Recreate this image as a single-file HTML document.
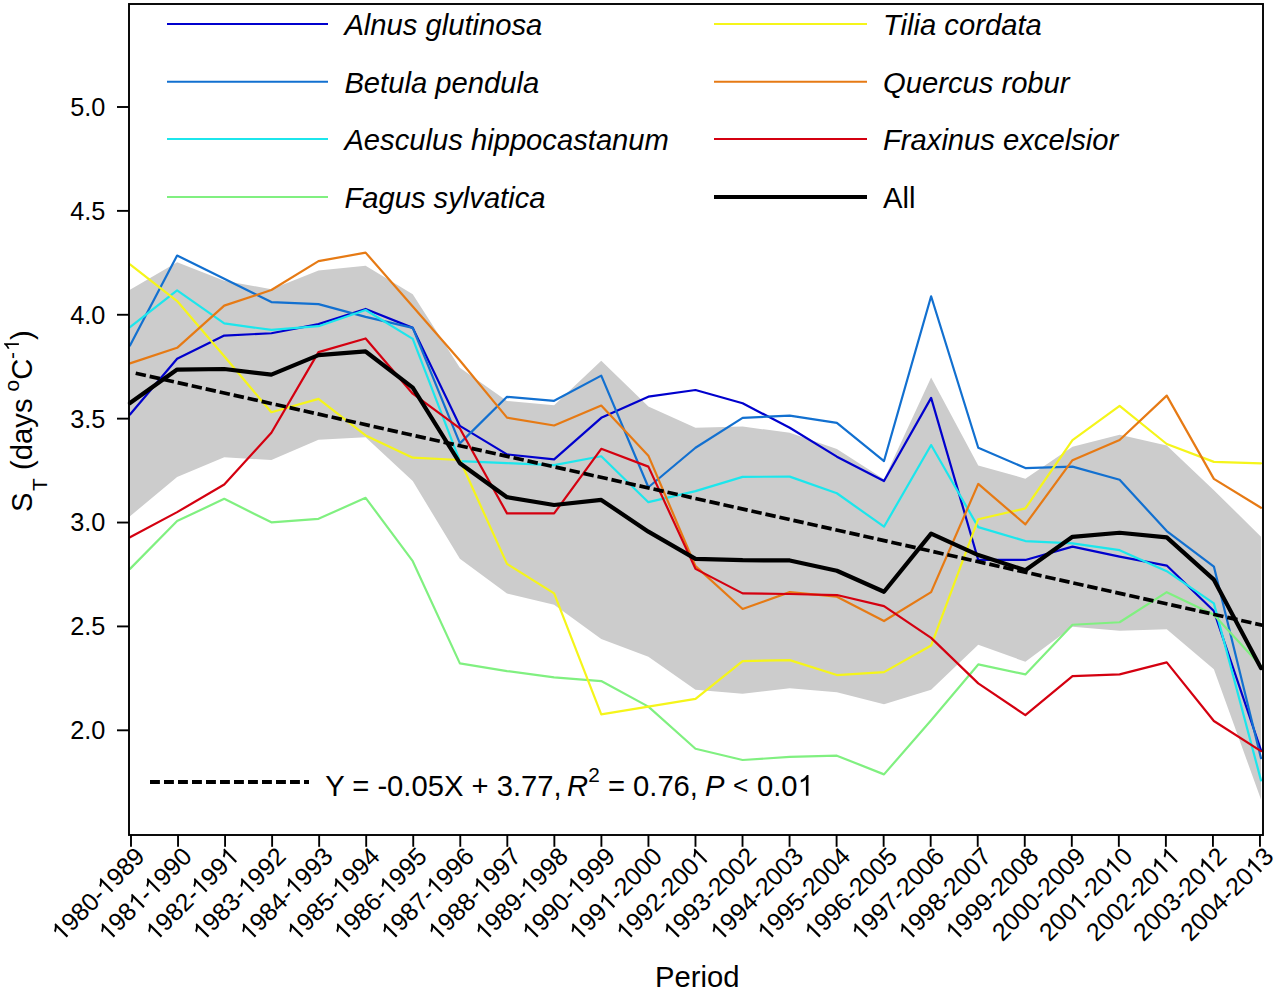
<!DOCTYPE html>
<html><head><meta charset="utf-8"><style>
html,body{margin:0;padding:0;background:#fff;}
svg{display:block;}
text{font-family:"Liberation Sans", sans-serif; fill:#000;}
</style></head><body>
<svg width="1276" height="990" viewBox="0 0 1276 990">
<rect width="1276" height="990" fill="#fff"/>
<polygon points="130.00,289.84 177.12,262.20 224.25,280.66 271.38,289.23 318.50,270.43 365.62,265.63 412.75,294.27 459.88,367.64 507.00,400.98 554.12,405.28 601.25,360.81 648.38,406.58 695.50,427.83 742.62,426.60 789.75,432.73 836.88,449.12 884.00,479.32 931.12,377.47 978.25,465.47 1025.38,478.65 1072.50,446.87 1119.62,434.73 1166.75,445.62 1213.88,490.16 1261.00,536.71 1261.00,799.54 1213.88,669.14 1166.75,629.20 1119.62,630.77 1072.50,626.76 1025.38,661.77 978.25,644.74 931.12,689.69 884.00,704.19 836.88,692.36 789.75,688.15 742.62,693.81 695.50,689.79 648.38,656.73 601.25,639.04 554.12,604.72 507.00,593.41 459.88,558.83 412.75,481.07 365.62,437.29 318.50,439.72 271.38,460.10 224.25,457.33 177.12,476.92 130.00,516.24" fill="#CCCCCC" stroke="none"/>
<polyline points="130.00,414.50 177.12,358.82 224.25,335.55 271.38,333.26 318.50,324.12 365.62,308.95 412.75,327.86 459.88,425.93 507.00,454.39 554.12,459.38 601.25,417.82 648.38,396.63 695.50,389.98 742.62,403.28 789.75,427.80 836.88,456.68 884.00,480.99 931.12,397.88 978.25,559.94 1025.38,559.94 1072.50,546.64 1119.62,556.61 1166.75,565.55 1213.88,611.05 1261.00,750.26" fill="none" stroke="#0000CD" stroke-width="2.2" stroke-linejoin="round" stroke-linecap="round"/>
<polyline points="130.00,345.52 177.12,255.56 224.25,278.83 271.38,302.10 318.50,304.17 365.62,316.85 412.75,327.86 459.88,443.38 507.00,396.84 554.12,400.79 601.25,375.65 648.38,487.22 695.50,447.74 742.62,417.82 789.75,415.54 836.88,422.81 884.00,461.04 931.12,296.28 978.25,447.74 1025.38,468.10 1072.50,466.65 1119.62,479.74 1166.75,531.06 1213.88,566.59 1261.00,758.15" fill="none" stroke="#1270D0" stroke-width="2.2" stroke-linejoin="round" stroke-linecap="round"/>
<polyline points="130.00,327.24 177.12,290.46 224.25,323.29 271.38,329.94 318.50,326.20 365.62,309.99 412.75,338.87 459.88,461.04 507.00,463.12 554.12,465.20 601.25,456.26 648.38,502.18 695.50,491.17 742.62,476.83 789.75,476.62 836.88,493.24 884.00,526.70 931.12,445.04 978.25,527.11 1025.38,541.03 1072.50,543.32 1119.62,550.17 1166.75,571.16 1213.88,603.36 1261.00,780.38" fill="none" stroke="#1CE6EC" stroke-width="2.2" stroke-linejoin="round" stroke-linecap="round"/>
<polyline points="130.00,568.87 177.12,521.09 224.25,498.85 271.38,522.33 318.50,518.80 365.62,497.82 412.75,561.19 459.88,663.41 507.00,671.10 554.12,677.33 601.25,681.07 648.38,706.62 695.50,748.80 742.62,760.02 789.75,756.90 836.88,755.66 884.00,774.36 931.12,720.34 978.25,664.45 1025.38,674.42 1072.50,624.76 1119.62,622.27 1166.75,592.14 1213.88,614.79 1261.00,665.90" fill="none" stroke="#80F080" stroke-width="2.2" stroke-linejoin="round" stroke-linecap="round"/>
<polyline points="130.00,264.49 177.12,301.06 224.25,356.32 271.38,412.21 318.50,398.92 365.62,435.48 412.75,457.72 459.88,460.00 507.00,563.89 554.12,593.39 601.25,714.31 648.38,706.62 695.50,698.94 742.62,661.12 789.75,660.08 836.88,675.04 884.00,672.13 931.12,645.54 978.25,519.22 1025.38,508.41 1072.50,440.06 1119.62,405.98 1166.75,444.00 1213.88,461.87 1261.00,463.33" fill="none" stroke="#F5F51A" stroke-width="2.2" stroke-linejoin="round" stroke-linecap="round"/>
<polyline points="130.00,363.39 177.12,347.81 224.25,305.63 271.38,290.05 318.50,261.17 365.62,252.65 412.75,306.46 459.88,360.48 507.00,417.62 554.12,425.51 601.25,405.57 648.38,455.64 695.50,566.17 742.62,608.97 789.75,592.14 836.88,596.71 884.00,621.02 931.12,592.14 978.25,483.89 1025.38,524.41 1072.50,460.21 1119.62,440.06 1166.75,395.59 1213.88,478.91 1261.00,507.79" fill="none" stroke="#E67A14" stroke-width="2.2" stroke-linejoin="round" stroke-linecap="round"/>
<polyline points="130.00,537.29 177.12,512.15 224.25,484.52 271.38,432.78 318.50,352.17 365.62,338.46 412.75,393.72 459.88,428.42 507.00,513.40 554.12,513.40 601.25,448.78 648.38,466.65 695.50,568.87 742.62,593.39 789.75,594.01 836.88,595.05 884.00,606.06 931.12,637.85 978.25,683.35 1025.38,715.14 1072.50,676.08 1119.62,674.42 1166.75,662.37 1213.88,720.96 1261.00,751.09" fill="none" stroke="#D40010" stroke-width="2.2" stroke-linejoin="round" stroke-linecap="round"/>
<polyline points="130.00,403.04 177.12,369.56 224.25,369.00 271.38,374.67 318.50,355.08 365.62,351.46 412.75,387.67 459.88,463.24 507.00,497.19 554.12,505.00 601.25,499.92 648.38,531.65 695.50,558.81 742.62,560.21 789.75,560.44 836.88,570.74 884.00,591.76 931.12,533.58 978.25,555.10 1025.38,570.21 1072.50,536.82 1119.62,532.75 1166.75,537.41 1213.88,579.65 1261.00,668.13" fill="none" stroke="#000" stroke-width="4.2" stroke-linejoin="round" stroke-linecap="round"/>
<line x1="132.5" y1="372.52" x2="1262.5" y2="625.28" stroke="#000" stroke-width="3.7" stroke-dasharray="10.45 3.89" stroke-dashoffset="11.07"/>
<rect x="129" y="4" width="1134" height="831" fill="none" stroke="#000" stroke-width="1.9"/>
<line x1="131.00" y1="835" x2="131.00" y2="846.8" stroke="#000" stroke-width="1.9"/>
<line x1="178.04" y1="835" x2="178.04" y2="846.8" stroke="#000" stroke-width="1.9"/>
<line x1="225.08" y1="835" x2="225.08" y2="846.8" stroke="#000" stroke-width="1.9"/>
<line x1="272.12" y1="835" x2="272.12" y2="846.8" stroke="#000" stroke-width="1.9"/>
<line x1="319.16" y1="835" x2="319.16" y2="846.8" stroke="#000" stroke-width="1.9"/>
<line x1="366.20" y1="835" x2="366.20" y2="846.8" stroke="#000" stroke-width="1.9"/>
<line x1="413.24" y1="835" x2="413.24" y2="846.8" stroke="#000" stroke-width="1.9"/>
<line x1="460.28" y1="835" x2="460.28" y2="846.8" stroke="#000" stroke-width="1.9"/>
<line x1="507.32" y1="835" x2="507.32" y2="846.8" stroke="#000" stroke-width="1.9"/>
<line x1="554.36" y1="835" x2="554.36" y2="846.8" stroke="#000" stroke-width="1.9"/>
<line x1="601.40" y1="835" x2="601.40" y2="846.8" stroke="#000" stroke-width="1.9"/>
<line x1="648.44" y1="835" x2="648.44" y2="846.8" stroke="#000" stroke-width="1.9"/>
<line x1="695.48" y1="835" x2="695.48" y2="846.8" stroke="#000" stroke-width="1.9"/>
<line x1="742.52" y1="835" x2="742.52" y2="846.8" stroke="#000" stroke-width="1.9"/>
<line x1="789.56" y1="835" x2="789.56" y2="846.8" stroke="#000" stroke-width="1.9"/>
<line x1="836.60" y1="835" x2="836.60" y2="846.8" stroke="#000" stroke-width="1.9"/>
<line x1="883.64" y1="835" x2="883.64" y2="846.8" stroke="#000" stroke-width="1.9"/>
<line x1="930.68" y1="835" x2="930.68" y2="846.8" stroke="#000" stroke-width="1.9"/>
<line x1="977.72" y1="835" x2="977.72" y2="846.8" stroke="#000" stroke-width="1.9"/>
<line x1="1024.76" y1="835" x2="1024.76" y2="846.8" stroke="#000" stroke-width="1.9"/>
<line x1="1071.80" y1="835" x2="1071.80" y2="846.8" stroke="#000" stroke-width="1.9"/>
<line x1="1118.84" y1="835" x2="1118.84" y2="846.8" stroke="#000" stroke-width="1.9"/>
<line x1="1165.88" y1="835" x2="1165.88" y2="846.8" stroke="#000" stroke-width="1.9"/>
<line x1="1212.92" y1="835" x2="1212.92" y2="846.8" stroke="#000" stroke-width="1.9"/>
<line x1="1259.96" y1="835" x2="1259.96" y2="846.8" stroke="#000" stroke-width="1.9"/>
<line x1="117" y1="730.31" x2="129" y2="730.31" stroke="#000" stroke-width="1.9"/>
<text x="105.3" y="739.21" text-anchor="end" font-size="25.3">2.0</text>
<line x1="117" y1="626.42" x2="129" y2="626.42" stroke="#000" stroke-width="1.9"/>
<text x="105.3" y="635.32" text-anchor="end" font-size="25.3">2.5</text>
<line x1="117" y1="522.54" x2="129" y2="522.54" stroke="#000" stroke-width="1.9"/>
<text x="105.3" y="531.44" text-anchor="end" font-size="25.3">3.0</text>
<line x1="117" y1="418.65" x2="129" y2="418.65" stroke="#000" stroke-width="1.9"/>
<text x="105.3" y="427.55" text-anchor="end" font-size="25.3">3.5</text>
<line x1="117" y1="314.77" x2="129" y2="314.77" stroke="#000" stroke-width="1.9"/>
<text x="105.3" y="323.67" text-anchor="end" font-size="25.3">4.0</text>
<line x1="117" y1="210.88" x2="129" y2="210.88" stroke="#000" stroke-width="1.9"/>
<text x="105.3" y="219.78" text-anchor="end" font-size="25.3">4.5</text>
<line x1="117" y1="107.00" x2="129" y2="107.00" stroke="#000" stroke-width="1.9"/>
<text x="105.3" y="115.90" text-anchor="end" font-size="25.3">5.0</text>
<g transform="translate(146.20,857.9) rotate(-45)"><text x="-119.56" y="0.00" font-size="25.0" style="font-kerning:none"> 980- 989</text><path transform="translate(-119.56,0.00) scale(0.01221,-0.01221)" d="M763 0L583 0L583 1147Q518 1085 415 1024Q312 963 223 930L223 1104Q375 1175 486.5 1274Q598 1373 651 1466L763 1466Z"/><path transform="translate(-55.62,0.00) scale(0.01221,-0.01221)" d="M763 0L583 0L583 1147Q518 1085 415 1024Q312 963 223 930L223 1104Q375 1175 486.5 1274Q598 1373 651 1466L763 1466Z"/></g>
<g transform="translate(193.24,857.9) rotate(-45)"><text x="-119.56" y="0.00" font-size="25.0" style="font-kerning:none"> 98 - 990</text><path transform="translate(-119.56,0.00) scale(0.01221,-0.01221)" d="M763 0L583 0L583 1147Q518 1085 415 1024Q312 963 223 930L223 1104Q375 1175 486.5 1274Q598 1373 651 1466L763 1466Z"/><path transform="translate(-77.84,0.00) scale(0.01221,-0.01221)" d="M763 0L583 0L583 1147Q518 1085 415 1024Q312 963 223 930L223 1104Q375 1175 486.5 1274Q598 1373 651 1466L763 1466Z"/><path transform="translate(-55.62,0.00) scale(0.01221,-0.01221)" d="M763 0L583 0L583 1147Q518 1085 415 1024Q312 963 223 930L223 1104Q375 1175 486.5 1274Q598 1373 651 1466L763 1466Z"/></g>
<g transform="translate(240.28,857.9) rotate(-45)"><text x="-119.56" y="0.00" font-size="25.0" style="font-kerning:none"> 982- 99 </text><path transform="translate(-119.56,0.00) scale(0.01221,-0.01221)" d="M763 0L583 0L583 1147Q518 1085 415 1024Q312 963 223 930L223 1104Q375 1175 486.5 1274Q598 1373 651 1466L763 1466Z"/><path transform="translate(-55.62,0.00) scale(0.01221,-0.01221)" d="M763 0L583 0L583 1147Q518 1085 415 1024Q312 963 223 930L223 1104Q375 1175 486.5 1274Q598 1373 651 1466L763 1466Z"/><path transform="translate(-13.90,0.00) scale(0.01221,-0.01221)" d="M763 0L583 0L583 1147Q518 1085 415 1024Q312 963 223 930L223 1104Q375 1175 486.5 1274Q598 1373 651 1466L763 1466Z"/></g>
<g transform="translate(287.32,857.9) rotate(-45)"><text x="-119.56" y="0.00" font-size="25.0" style="font-kerning:none"> 983- 992</text><path transform="translate(-119.56,0.00) scale(0.01221,-0.01221)" d="M763 0L583 0L583 1147Q518 1085 415 1024Q312 963 223 930L223 1104Q375 1175 486.5 1274Q598 1373 651 1466L763 1466Z"/><path transform="translate(-55.62,0.00) scale(0.01221,-0.01221)" d="M763 0L583 0L583 1147Q518 1085 415 1024Q312 963 223 930L223 1104Q375 1175 486.5 1274Q598 1373 651 1466L763 1466Z"/></g>
<g transform="translate(334.36,857.9) rotate(-45)"><text x="-119.56" y="0.00" font-size="25.0" style="font-kerning:none"> 984- 993</text><path transform="translate(-119.56,0.00) scale(0.01221,-0.01221)" d="M763 0L583 0L583 1147Q518 1085 415 1024Q312 963 223 930L223 1104Q375 1175 486.5 1274Q598 1373 651 1466L763 1466Z"/><path transform="translate(-55.62,0.00) scale(0.01221,-0.01221)" d="M763 0L583 0L583 1147Q518 1085 415 1024Q312 963 223 930L223 1104Q375 1175 486.5 1274Q598 1373 651 1466L763 1466Z"/></g>
<g transform="translate(381.40,857.9) rotate(-45)"><text x="-119.56" y="0.00" font-size="25.0" style="font-kerning:none"> 985- 994</text><path transform="translate(-119.56,0.00) scale(0.01221,-0.01221)" d="M763 0L583 0L583 1147Q518 1085 415 1024Q312 963 223 930L223 1104Q375 1175 486.5 1274Q598 1373 651 1466L763 1466Z"/><path transform="translate(-55.62,0.00) scale(0.01221,-0.01221)" d="M763 0L583 0L583 1147Q518 1085 415 1024Q312 963 223 930L223 1104Q375 1175 486.5 1274Q598 1373 651 1466L763 1466Z"/></g>
<g transform="translate(428.44,857.9) rotate(-45)"><text x="-119.56" y="0.00" font-size="25.0" style="font-kerning:none"> 986- 995</text><path transform="translate(-119.56,0.00) scale(0.01221,-0.01221)" d="M763 0L583 0L583 1147Q518 1085 415 1024Q312 963 223 930L223 1104Q375 1175 486.5 1274Q598 1373 651 1466L763 1466Z"/><path transform="translate(-55.62,0.00) scale(0.01221,-0.01221)" d="M763 0L583 0L583 1147Q518 1085 415 1024Q312 963 223 930L223 1104Q375 1175 486.5 1274Q598 1373 651 1466L763 1466Z"/></g>
<g transform="translate(475.48,857.9) rotate(-45)"><text x="-119.56" y="0.00" font-size="25.0" style="font-kerning:none"> 987- 996</text><path transform="translate(-119.56,0.00) scale(0.01221,-0.01221)" d="M763 0L583 0L583 1147Q518 1085 415 1024Q312 963 223 930L223 1104Q375 1175 486.5 1274Q598 1373 651 1466L763 1466Z"/><path transform="translate(-55.62,0.00) scale(0.01221,-0.01221)" d="M763 0L583 0L583 1147Q518 1085 415 1024Q312 963 223 930L223 1104Q375 1175 486.5 1274Q598 1373 651 1466L763 1466Z"/></g>
<g transform="translate(522.52,857.9) rotate(-45)"><text x="-119.56" y="0.00" font-size="25.0" style="font-kerning:none"> 988- 997</text><path transform="translate(-119.56,0.00) scale(0.01221,-0.01221)" d="M763 0L583 0L583 1147Q518 1085 415 1024Q312 963 223 930L223 1104Q375 1175 486.5 1274Q598 1373 651 1466L763 1466Z"/><path transform="translate(-55.62,0.00) scale(0.01221,-0.01221)" d="M763 0L583 0L583 1147Q518 1085 415 1024Q312 963 223 930L223 1104Q375 1175 486.5 1274Q598 1373 651 1466L763 1466Z"/></g>
<g transform="translate(569.56,857.9) rotate(-45)"><text x="-119.56" y="0.00" font-size="25.0" style="font-kerning:none"> 989- 998</text><path transform="translate(-119.56,0.00) scale(0.01221,-0.01221)" d="M763 0L583 0L583 1147Q518 1085 415 1024Q312 963 223 930L223 1104Q375 1175 486.5 1274Q598 1373 651 1466L763 1466Z"/><path transform="translate(-55.62,0.00) scale(0.01221,-0.01221)" d="M763 0L583 0L583 1147Q518 1085 415 1024Q312 963 223 930L223 1104Q375 1175 486.5 1274Q598 1373 651 1466L763 1466Z"/></g>
<g transform="translate(616.60,857.9) rotate(-45)"><text x="-119.56" y="0.00" font-size="25.0" style="font-kerning:none"> 990- 999</text><path transform="translate(-119.56,0.00) scale(0.01221,-0.01221)" d="M763 0L583 0L583 1147Q518 1085 415 1024Q312 963 223 930L223 1104Q375 1175 486.5 1274Q598 1373 651 1466L763 1466Z"/><path transform="translate(-55.62,0.00) scale(0.01221,-0.01221)" d="M763 0L583 0L583 1147Q518 1085 415 1024Q312 963 223 930L223 1104Q375 1175 486.5 1274Q598 1373 651 1466L763 1466Z"/></g>
<g transform="translate(663.64,857.9) rotate(-45)"><text x="-119.56" y="0.00" font-size="25.0" style="font-kerning:none"> 99 -2000</text><path transform="translate(-119.56,0.00) scale(0.01221,-0.01221)" d="M763 0L583 0L583 1147Q518 1085 415 1024Q312 963 223 930L223 1104Q375 1175 486.5 1274Q598 1373 651 1466L763 1466Z"/><path transform="translate(-77.84,0.00) scale(0.01221,-0.01221)" d="M763 0L583 0L583 1147Q518 1085 415 1024Q312 963 223 930L223 1104Q375 1175 486.5 1274Q598 1373 651 1466L763 1466Z"/></g>
<g transform="translate(710.68,857.9) rotate(-45)"><text x="-119.56" y="0.00" font-size="25.0" style="font-kerning:none"> 992-200 </text><path transform="translate(-119.56,0.00) scale(0.01221,-0.01221)" d="M763 0L583 0L583 1147Q518 1085 415 1024Q312 963 223 930L223 1104Q375 1175 486.5 1274Q598 1373 651 1466L763 1466Z"/><path transform="translate(-13.90,0.00) scale(0.01221,-0.01221)" d="M763 0L583 0L583 1147Q518 1085 415 1024Q312 963 223 930L223 1104Q375 1175 486.5 1274Q598 1373 651 1466L763 1466Z"/></g>
<g transform="translate(757.72,857.9) rotate(-45)"><text x="-119.56" y="0.00" font-size="25.0" style="font-kerning:none"> 993-2002</text><path transform="translate(-119.56,0.00) scale(0.01221,-0.01221)" d="M763 0L583 0L583 1147Q518 1085 415 1024Q312 963 223 930L223 1104Q375 1175 486.5 1274Q598 1373 651 1466L763 1466Z"/></g>
<g transform="translate(804.76,857.9) rotate(-45)"><text x="-119.56" y="0.00" font-size="25.0" style="font-kerning:none"> 994-2003</text><path transform="translate(-119.56,0.00) scale(0.01221,-0.01221)" d="M763 0L583 0L583 1147Q518 1085 415 1024Q312 963 223 930L223 1104Q375 1175 486.5 1274Q598 1373 651 1466L763 1466Z"/></g>
<g transform="translate(851.80,857.9) rotate(-45)"><text x="-119.56" y="0.00" font-size="25.0" style="font-kerning:none"> 995-2004</text><path transform="translate(-119.56,0.00) scale(0.01221,-0.01221)" d="M763 0L583 0L583 1147Q518 1085 415 1024Q312 963 223 930L223 1104Q375 1175 486.5 1274Q598 1373 651 1466L763 1466Z"/></g>
<g transform="translate(898.84,857.9) rotate(-45)"><text x="-119.56" y="0.00" font-size="25.0" style="font-kerning:none"> 996-2005</text><path transform="translate(-119.56,0.00) scale(0.01221,-0.01221)" d="M763 0L583 0L583 1147Q518 1085 415 1024Q312 963 223 930L223 1104Q375 1175 486.5 1274Q598 1373 651 1466L763 1466Z"/></g>
<g transform="translate(945.88,857.9) rotate(-45)"><text x="-119.56" y="0.00" font-size="25.0" style="font-kerning:none"> 997-2006</text><path transform="translate(-119.56,0.00) scale(0.01221,-0.01221)" d="M763 0L583 0L583 1147Q518 1085 415 1024Q312 963 223 930L223 1104Q375 1175 486.5 1274Q598 1373 651 1466L763 1466Z"/></g>
<g transform="translate(992.92,857.9) rotate(-45)"><text x="-119.56" y="0.00" font-size="25.0" style="font-kerning:none"> 998-2007</text><path transform="translate(-119.56,0.00) scale(0.01221,-0.01221)" d="M763 0L583 0L583 1147Q518 1085 415 1024Q312 963 223 930L223 1104Q375 1175 486.5 1274Q598 1373 651 1466L763 1466Z"/></g>
<g transform="translate(1039.96,857.9) rotate(-45)"><text x="-119.56" y="0.00" font-size="25.0" style="font-kerning:none"> 999-2008</text><path transform="translate(-119.56,0.00) scale(0.01221,-0.01221)" d="M763 0L583 0L583 1147Q518 1085 415 1024Q312 963 223 930L223 1104Q375 1175 486.5 1274Q598 1373 651 1466L763 1466Z"/></g>
<g transform="translate(1087.00,857.9) rotate(-45)"><text x="-119.56" y="0.00" font-size="25.0" style="font-kerning:none">2000-2009</text></g>
<g transform="translate(1134.04,857.9) rotate(-45)"><text x="-119.56" y="0.00" font-size="25.0" style="font-kerning:none">200 -20 0</text><path transform="translate(-77.84,0.00) scale(0.01221,-0.01221)" d="M763 0L583 0L583 1147Q518 1085 415 1024Q312 963 223 930L223 1104Q375 1175 486.5 1274Q598 1373 651 1466L763 1466Z"/><path transform="translate(-27.81,0.00) scale(0.01221,-0.01221)" d="M763 0L583 0L583 1147Q518 1085 415 1024Q312 963 223 930L223 1104Q375 1175 486.5 1274Q598 1373 651 1466L763 1466Z"/></g>
<g transform="translate(1181.08,857.9) rotate(-45)"><text x="-119.56" y="0.00" font-size="25.0" style="font-kerning:none">2002-20  </text><path transform="translate(-27.81,0.00) scale(0.01221,-0.01221)" d="M763 0L583 0L583 1147Q518 1085 415 1024Q312 963 223 930L223 1104Q375 1175 486.5 1274Q598 1373 651 1466L763 1466Z"/><path transform="translate(-13.90,0.00) scale(0.01221,-0.01221)" d="M763 0L583 0L583 1147Q518 1085 415 1024Q312 963 223 930L223 1104Q375 1175 486.5 1274Q598 1373 651 1466L763 1466Z"/></g>
<g transform="translate(1228.12,857.9) rotate(-45)"><text x="-119.56" y="0.00" font-size="25.0" style="font-kerning:none">2003-20 2</text><path transform="translate(-27.81,0.00) scale(0.01221,-0.01221)" d="M763 0L583 0L583 1147Q518 1085 415 1024Q312 963 223 930L223 1104Q375 1175 486.5 1274Q598 1373 651 1466L763 1466Z"/></g>
<g transform="translate(1275.16,857.9) rotate(-45)"><text x="-119.56" y="0.00" font-size="25.0" style="font-kerning:none">2004-20 3</text><path transform="translate(-27.81,0.00) scale(0.01221,-0.01221)" d="M763 0L583 0L583 1147Q518 1085 415 1024Q312 963 223 930L223 1104Q375 1175 486.5 1274Q598 1373 651 1466L763 1466Z"/></g>
<line x1="167" y1="24.0" x2="328" y2="24.0" stroke="#0000CD" stroke-width="2"/>
<text x="344.4" y="34.8" font-size="29.2" font-style="italic">Alnus glutinosa</text>
<line x1="167" y1="81.8" x2="328" y2="81.8" stroke="#1270D0" stroke-width="2"/>
<text x="344.4" y="92.6" font-size="29.2" font-style="italic">Betula pendula</text>
<line x1="167" y1="139.0" x2="328" y2="139.0" stroke="#1CE6EC" stroke-width="2"/>
<text x="344.4" y="150.2" font-size="29.2" font-style="italic">Aesculus hippocastanum</text>
<line x1="167" y1="197.0" x2="328" y2="197.0" stroke="#80F080" stroke-width="2"/>
<text x="344.4" y="207.9" font-size="29.2" font-style="italic">Fagus sylvatica</text>
<line x1="714" y1="24.0" x2="867" y2="24.0" stroke="#F5F51A" stroke-width="2"/>
<text x="883" y="34.8" font-size="29.2" font-style="italic">Tilia cordata</text>
<line x1="714" y1="81.8" x2="867" y2="81.8" stroke="#E67A14" stroke-width="2"/>
<text x="883" y="92.6" font-size="29.2" font-style="italic">Quercus robur</text>
<line x1="714" y1="139.0" x2="867" y2="139.0" stroke="#D40010" stroke-width="2"/>
<text x="883" y="150.2" font-size="29.2" font-style="italic">Fraxinus excelsior</text>
<line x1="714" y1="197.0" x2="867" y2="197.0" stroke="#000" stroke-width="4.2"/>
<text x="883" y="207.9" font-size="29.2">All</text>
<line x1="150" y1="782" x2="309" y2="782" stroke="#000" stroke-width="3.8" stroke-dasharray="9.9 4.1"/>
<text x="325.2" y="795.8" font-size="29.2">Y = -0.05X + 3.77,</text>
<text x="567" y="795.8" font-size="29.2" font-style="italic">R</text>
<text x="588.2" y="781.9" font-size="20.8">2</text>
<text x="607.9" y="795.8" font-size="29.2">= 0.76,</text>
<text x="705" y="795.8" font-size="29.2" font-style="italic">P</text>
<text x="733.1" y="794.3" font-size="26">&lt;</text>
<text x="757.00" y="795.80" font-size="29.2" style="font-kerning:none">0.0 </text><path transform="translate(797.59,795.80) scale(0.01426,-0.01426)" d="M763 0L583 0L583 1147Q518 1085 415 1024Q312 963 223 930L223 1104Q375 1175 486.5 1274Q598 1373 651 1466L763 1466Z"/>
<text x="655" y="986.7" font-size="29.2">Period</text>
<text transform="rotate(-90)" x="-512.0" y="31.9" font-size="29.2">S</text>
<text transform="rotate(-90)" x="-491.0" y="47.2" font-size="20.8">T</text>
<text transform="rotate(-90)" x="-469.9" y="31.9" font-size="29.2">(days</text>
<text transform="rotate(-90)" x="-391.6" y="18.8" font-size="20.8">o</text>
<text transform="rotate(-90)" x="-379.7" y="31.9" font-size="29.2">C</text>
<text transform="rotate(-90)" x="-359.0" y="18.9" font-size="20.8">-</text>
<g transform="rotate(-90)"><text x="-350.90" y="18.90" font-size="20.8" style="font-kerning:none"> </text><path transform="translate(-350.90,18.90) scale(0.01016,-0.01016)" d="M763 0L583 0L583 1147Q518 1085 415 1024Q312 963 223 930L223 1104Q375 1175 486.5 1274Q598 1373 651 1466L763 1466Z"/></g>
<text transform="rotate(-90)" x="-340.0" y="31.9" font-size="29.2">)</text>
</svg>
</body></html>
